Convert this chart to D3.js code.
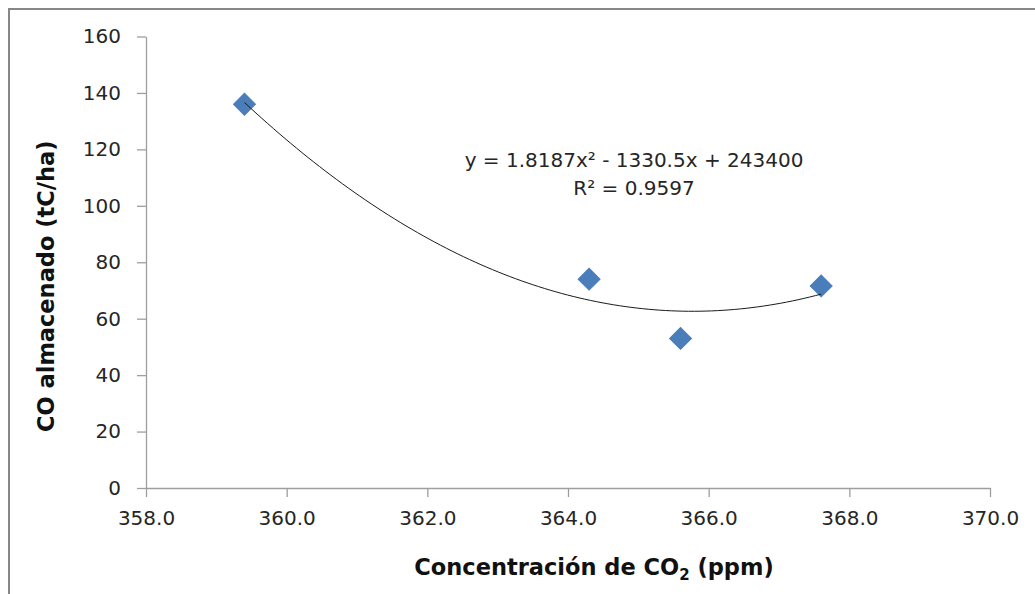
<!DOCTYPE html>
<html lang="es">
<head>
<meta charset="UTF-8">
<title>CO almacenado vs CO2</title>
<style>
  body, html { margin: 0; padding: 0; background: #fff; overflow: hidden; }
  svg { display: block; }
  .tick text { font-family: "DejaVu Sans", sans-serif; font-size: 20px; fill: #262626; }
  .axis path, .axis line { stroke: #9e9e9e; stroke-width: 1.3px; }
  .title { font-family: "DejaVu Sans", sans-serif; font-weight: bold; font-size: 22.5px; fill: #111; }
  .eq { font-family: "DejaVu Sans", sans-serif; font-size: 20px; fill: #262626; }
</style>
</head>
<body>
<script src="https://d3js.org/d3.v7.min.js"></script>
<script>
// data
const co2 = [359.4, 364.3, 365.6, 367.6];
const stored = [136, 74, 53, 71.6];
const xTicks = [358, 360, 362, 364, 366, 368, 370];
const yTicks = [0, 20, 40, 60, 80, 100, 120, 140, 160];
const eqLines = ["y = 1.8187x² - 1330.5x + 243400", "R² = 0.9597"];

const width = 1035, height = 594;
const plot = { left: 146, right: 990, top: 36.5, bottom: 488 };

const svg = d3.select("body").append("svg")
    .attr("width", width)
    .attr("height", height);

// chart frame (only top/left visible, rest is cut off)
svg.append("rect")
    .attr("x", 9).attr("y", 9)
    .attr("width", 1200).attr("height", 800)
    .attr("fill", "none")
    .attr("stroke", "#878787")
    .attr("stroke-width", 2);

const x = d3.scaleLinear().domain([358, 370]).range([plot.left, plot.right]);
const y = d3.scaleLinear().domain([0, 160]).range([plot.bottom, plot.top]);

svg.append("g")
    .attr("class", "axis")
    .attr("transform", `translate(0,${plot.bottom})`)
    .call(d3.axisBottom(x).tickValues(xTicks).tickFormat(d3.format(".1f")).tickSize(9).tickPadding(10).tickSizeOuter(0))
    .call(g => g.selectAll("text").attr("dy", "0.9em"));

svg.append("g")
    .attr("class", "axis")
    .attr("transform", `translate(${plot.left},0)`)
    .call(d3.axisLeft(y).tickValues(yTicks).tickSize(9).tickPadding(16).tickSizeOuter(0));

// polynomial (order 2) least squares trendline, like the spreadsheet one
function quadFit(xs, ys) {
    const m = d3.mean(xs);
    const u = xs.map(v => v - m);
    let s = [0, 0, 0, 0, 0], t = [0, 0, 0];
    u.forEach((ui, i) => {
        for (let k = 0; k <= 4; k++) s[k] += Math.pow(ui, k);
        for (let k = 0; k <= 2; k++) t[k] += Math.pow(ui, k) * ys[i];
    });
    // normal equations for c + b u + a u^2
    const A = [[s[0], s[1], s[2]], [s[1], s[2], s[3]], [s[2], s[3], s[4]]];
    const B = t.slice();
    for (let i = 0; i < 3; i++) {
        for (let j = i + 1; j < 3; j++) {
            const f = A[j][i] / A[i][i];
            for (let k = i; k < 3; k++) A[j][k] -= f * A[i][k];
            B[j] -= f * B[i];
        }
    }
    const c = [0, 0, 0];
    for (let i = 2; i >= 0; i--) {
        let sum = B[i];
        for (let k = i + 1; k < 3; k++) sum -= A[i][k] * c[k];
        c[i] = sum / A[i][i];
    }
    return v => c[0] + c[1] * (v - m) + c[2] * (v - m) * (v - m);
}

const fit = quadFit(co2, stored);
const xs = d3.range(0, 101).map(i => d3.min(co2) + (d3.max(co2) - d3.min(co2)) * i / 100);

// markers (squares turned 45deg = diamonds)
svg.append("g").selectAll("path")
    .data(co2)
    .join("path")
    .attr("d", d3.symbol().type(d3.symbolSquare).size(240))
    .attr("transform", (d, i) => `translate(${x(d)},${y(stored[i])}) rotate(45)`)
    .attr("fill", "#4a7ebb")
    .attr("stroke", "#4a7ebb")
    .attr("stroke-width", 1);

svg.append("path")
    .datum(xs)
    .attr("fill", "none")
    .attr("stroke", "#1a1a1a")
    .attr("stroke-width", 1)
    .attr("d", d3.line().x(d => x(d)).y(d => y(fit(d))));

// equation label
svg.selectAll(".eq")
    .data(eqLines)
    .join("text")
    .attr("class", "eq")
    .attr("x", 634)
    .attr("y", (d, i) => 167 + i * 28)
    .attr("text-anchor", "middle")
    .text(d => d);

// axis titles
const xt = svg.append("text")
    .attr("class", "title")
    .attr("x", 594)
    .attr("y", 575)
    .attr("text-anchor", "middle");
xt.append("tspan").text("Concentración de CO");
xt.append("tspan").attr("dy", 5).style("font-size", "15px").text("2");
xt.append("tspan").attr("dy", -5).text(" (ppm)");

svg.append("text")
    .attr("class", "title")
    .attr("transform", `translate(54,${(plot.top + plot.bottom) / 2 + 24}) rotate(-90)`)
    .attr("text-anchor", "middle")
    .text("CO almacenado (tC/ha)");
</script>
</body>
</html>
